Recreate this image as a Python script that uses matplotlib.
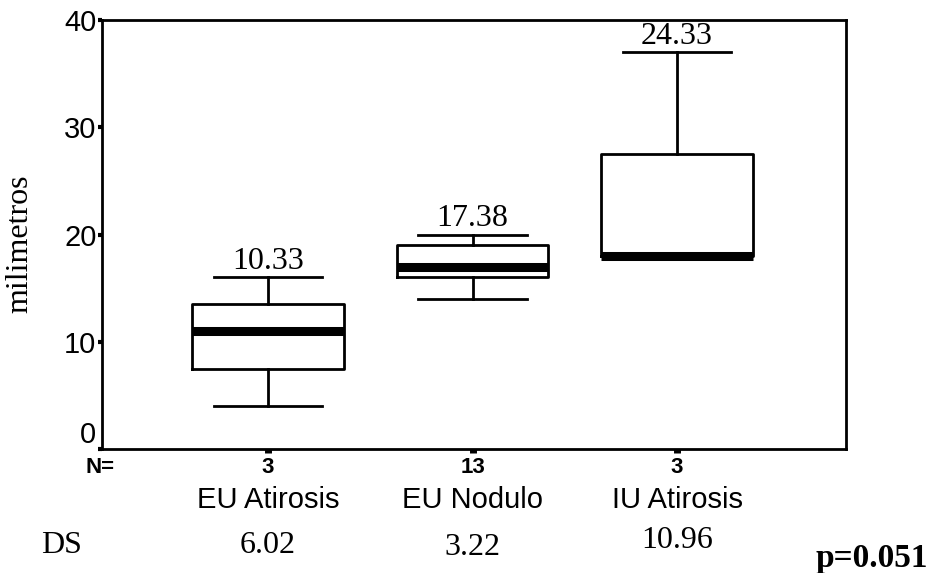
#!/usr/bin/env python3

import matplotlib
matplotlib.use("Agg")
import matplotlib.pyplot as plt
from matplotlib import transforms

# group data (box stats)
groups = ["EU Atirosis", "EU Nodulo", "IU Atirosis"]
n_obs = [3, 13, 3]
means = [10.33, 17.38, 24.33]
ds = [6.02, 3.22, 10.96]
whislo = [4, 14, 18]
q1 = [7.5, 16, 18]
med = [11, 17, 18]
q3 = [13.5, 19, 27.5]
whishi = [16, 20, 37]
p_text = "p=0.051"
yticks = [0, 10, 20, 30, 40]

sans = "Liberation Sans"
serif = "Liberation Serif"

fig = plt.figure(figsize=(9.28, 5.73), dpi=100)
ax = fig.add_axes([102 / 928, 124 / 573, 744 / 928, 429 / 573])

stats = []
for i in range(len(groups)):
    stats.append(
        dict(med=med[i], q1=q1[i], q3=q3[i], whislo=whislo[i], whishi=whishi[i], fliers=[])
    )

pos = [1, 2, 3]
ax.bxp(
    stats,
    positions=pos,
    widths=0.74,
    capwidths=0.53,
    showfliers=False,
    boxprops=dict(color="black", linewidth=2.0),
    whiskerprops=dict(color="black", linewidth=2.0),
    capprops=dict(color="black", linewidth=2.0),
    medianprops=dict(color="black", linewidth=6.5, solid_capstyle="butt"),
)

# mean labels above the upper whisker
for x, m, hi in zip(pos, means, whishi):
    ax.annotate(
        f"{m:.2f}", xy=(x, hi), xytext=(0, 6), textcoords="offset points",
        ha="center", va="baseline", fontsize=23, family=serif,
    )

ax.set_xlim(0.188, 3.826)
ax.set_ylim(0, 40)
ax.set_yticks(yticks)
ax.set_yticklabels([str(t) for t in yticks], fontsize=21, family=sans)
ax.get_yticklabels()[0].set_va("bottom")
ax.set_xticks(pos)
ax.set_xticklabels([])
ax.tick_params(axis="y", direction="out", length=3, width=3, pad=1)
ax.tick_params(axis="x", direction="out", length=3, width=5)
for sp in ax.spines.values():
    sp.set_linewidth(2.0)

# texts below the axes
tr = transforms.blended_transform_factory(ax.transData, fig.transFigure)
fig.text(100 / 928, 0.1745, "N=", ha="center", va="baseline",
         fontsize=16, fontweight="bold", family=sans)
for x, n in zip(pos, n_obs):
    ax.text(x, 0.1745, str(n), transform=tr, ha="center", va="baseline",
            fontsize=16, fontweight="bold", family=sans)
for x, g in zip(pos, groups):
    ax.text(x, 0.1134, g, transform=tr, ha="center", va="baseline",
            fontsize=21, family=sans)

ds_base = [0.0349, 0.031, 0.0436]
fig.text(62 / 928, 0.0349, "DS", ha="center", va="baseline", fontsize=23, family=serif)
for x, d, b in zip(pos, ds, ds_base):
    ax.text(x, b, f"{d:.2f}", transform=tr, ha="center", va="baseline",
            fontsize=23, family=serif)
fig.text(872 / 928, 0.0105, p_text, ha="center", va="baseline",
         fontsize=24, fontweight="bold", family=serif)

fig.text(20 / 928, 0.574, "milimetros", rotation=90, ha="center", va="center",
         fontsize=23, family=serif)

fig.savefig("out.png", dpi=100)
